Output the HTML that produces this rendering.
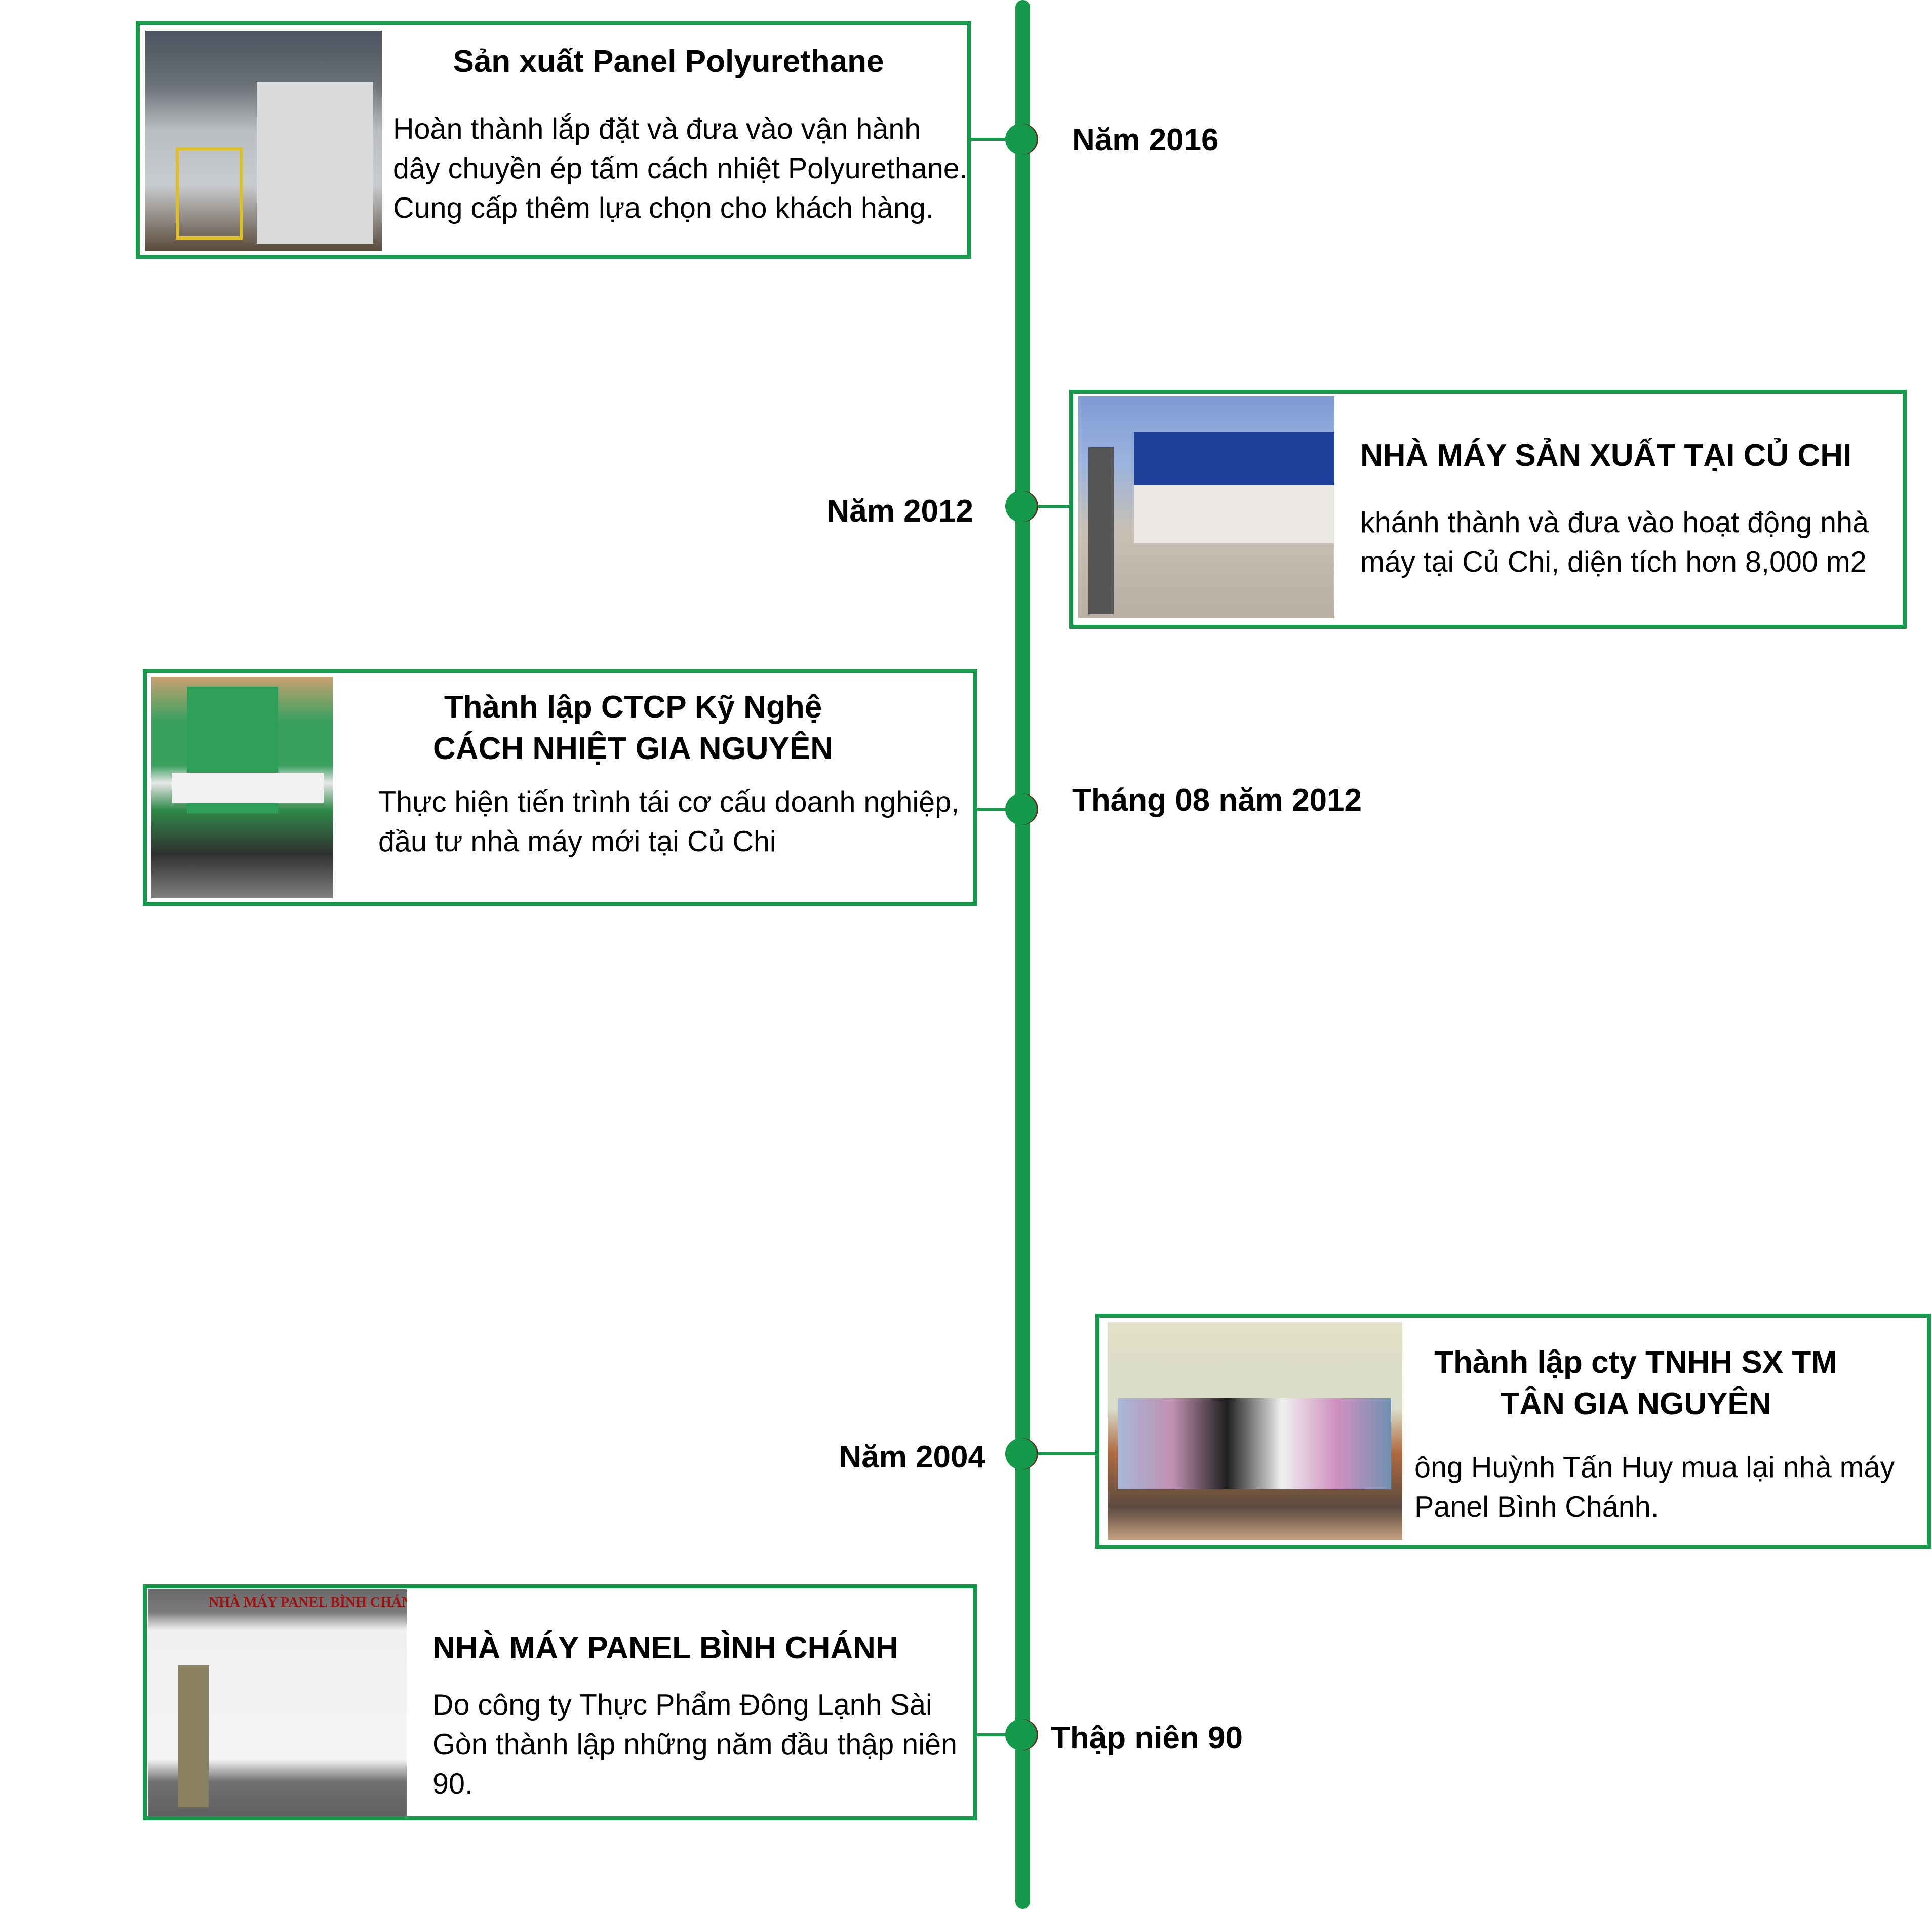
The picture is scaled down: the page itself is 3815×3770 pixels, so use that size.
<!DOCTYPE html>
<html><head><meta charset="utf-8">
<style>
html,body{margin:0;padding:0;background:#fff}
body{width:3815px;height:3770px;position:relative;overflow:hidden;font-family:"Liberation Sans",Arial,sans-serif;color:#000}
.a{position:absolute}
.box{position:absolute;border:8px solid #149a4a;box-sizing:border-box;background:#fff}
.line{position:absolute;background:#149a4a}
.dot{position:absolute;width:62px;height:62px;border-radius:50%;background:#149a4a;box-shadow:3px 0 0 #5a2a1a}
.lbl{position:absolute;font-weight:bold;font-size:62px;line-height:70px;white-space:nowrap}
.t{position:absolute;font-weight:bold;font-size:62px;line-height:82px;white-space:nowrap}
.b{position:absolute;font-size:57.5px;line-height:78px;white-space:nowrap}
.img{position:absolute;overflow:hidden}
</style></head><body>

<div class="line" style="left:2005px;top:0;width:29px;height:3770px;border-radius:15px"></div>

<!-- Box 1 -->
<div class="box" style="left:268px;top:41px;width:1650px;height:470px"></div>
<div class="img" style="left:287px;top:61px;width:467px;height:435px;background:linear-gradient(180deg,#4a5560 0%,#6c7278 25%,#b9bcc0 45%,#c9cccf 70%,#5a4a3a 100%)">
 <div class="a" style="left:220px;top:100px;width:230px;height:320px;background:#d8dadc"></div>
 <div class="a" style="left:60px;top:230px;width:120px;height:170px;border:6px solid #e0c020"></div>
</div>
<div class="t" style="left:880px;top:81px;width:880px;text-align:center">Sản xuất Panel Polyurethane</div>
<div class="b" style="left:776px;top:216px">Hoàn thành lắp đặt và đưa vào vận hành<br>dây chuyền ép tấm cách nhiệt Polyurethane.<br>Cung cấp thêm lựa chọn cho khách hàng.</div>
<div class="line" style="left:1918px;top:272px;width:100px;height:6px"></div>
<div class="dot" style="left:1985px;top:244px"></div>
<div class="lbl" style="left:2117px;top:242px">Năm 2016</div>

<!-- Box 2 -->
<div class="box" style="left:2111px;top:770px;width:1654px;height:472px"></div>
<div class="img" style="left:2129px;top:783px;width:506px;height:438px;background:linear-gradient(180deg,#7d9bd4 0%,#9bb3de 30%,#c8c0b4 60%,#b8aea2 100%)">
 <div class="a" style="left:110px;top:70px;width:396px;height:110px;background:#1e3f9a"></div>
 <div class="a" style="left:110px;top:175px;width:396px;height:115px;background:#ece9e4"></div>
 <div class="a" style="left:20px;top:100px;width:50px;height:330px;background:#555"></div>
</div>
<div class="t" style="left:2686px;top:859px">NHÀ MÁY SẢN XUẤT TẠI CỦ CHI</div>
<div class="b" style="left:2686px;top:993px">khánh thành và đưa vào hoạt động nhà<br>máy tại Củ Chi, diện tích hơn 8,000 m2</div>
<div class="line" style="left:2020px;top:997px;width:95px;height:6px"></div>
<div class="dot" style="left:1985px;top:969px"></div>
<div class="lbl" style="left:1622px;top:975px;width:300px;text-align:right">Năm 2012</div>

<!-- Box 3 -->
<div class="box" style="left:282px;top:1321px;width:1648px;height:468px"></div>
<div class="img" style="left:299px;top:1336px;width:358px;height:438px;background:linear-gradient(180deg,#c9a070 0%,#3aa060 20%,#3aa060 40%,#e8e8e8 48%,#2f8a4a 60%,#303030 80%,#808080 100%)">
 <div class="a" style="left:70px;top:20px;width:180px;height:250px;background:#2fa05a"></div>
 <div class="a" style="left:40px;top:190px;width:300px;height:60px;background:#f2f2f2"></div>
</div>
<div class="t" style="left:700px;top:1356px;width:1100px;text-align:center">Thành lập CTCP Kỹ Nghệ<br>CÁCH NHIỆT GIA NGUYÊN</div>
<div class="b" style="left:747px;top:1545px">Thực hiện tiến trình tái cơ cấu doanh nghiệp,<br>đầu tư nhà máy mới tại Củ Chi</div>
<div class="line" style="left:1930px;top:1595px;width:90px;height:6px"></div>
<div class="dot" style="left:1985px;top:1567px"></div>
<div class="lbl" style="left:2117px;top:1546px">Tháng 08 năm 2012</div>

<!-- Box 4 -->
<div class="box" style="left:2163px;top:2594px;width:1650px;height:465px"></div>
<div class="img" style="left:2187px;top:2611px;width:582px;height:430px;background:linear-gradient(180deg,#e2e0c8 0%,#d8dcc8 40%,#b06a40 60%,#5a4a40 85%,#c8a080 100%)">
 <div class="a" style="left:20px;top:150px;width:540px;height:180px;background:linear-gradient(90deg,#a8b8d8,#c090b0,#202020,#f0f0f0,#d090c0,#7090b0)"></div>
</div>
<div class="t" style="left:2800px;top:2650px;width:860px;text-align:center">Thành lập cty TNHH SX TM<br>TÂN GIA NGUYÊN</div>
<div class="b" style="left:2793px;top:2859px">ông Huỳnh Tấn Huy mua lại nhà máy<br>Panel Bình Chánh.</div>
<div class="line" style="left:2020px;top:2868px;width:145px;height:6px"></div>
<div class="dot" style="left:1985px;top:2840px"></div>
<div class="lbl" style="left:1646px;top:2843px;width:300px;text-align:right">Năm 2004</div>

<!-- Box 5 -->
<div class="box" style="left:282px;top:3129px;width:1648px;height:466px"></div>
<div class="img" style="left:292px;top:3139px;width:511px;height:447px;background:linear-gradient(180deg,#6a6a6a 0%,#7a7a7a 10%,#f0f0f0 18%,#f4f4f4 75%,#707070 85%,#606060 100%)">
 <div class="a" style="left:120px;top:10px;font-family:'Liberation Serif',serif;font-size:28px;color:#a01010;font-weight:bold;white-space:nowrap">NHÀ MÁY PANEL BÌNH CHÁNH</div>
 <div class="a" style="left:60px;top:150px;width:60px;height:280px;background:#8a8060"></div>
</div>
<div class="t" style="left:854px;top:3214px">NHÀ MÁY PANEL BÌNH CHÁNH</div>
<div class="b" style="left:854px;top:3328px">Do công ty Thực Phẩm Đông Lạnh Sài<br>Gòn thành lập những năm đầu thập niên<br>90.</div>
<div class="line" style="left:1930px;top:3423px;width:90px;height:6px"></div>
<div class="dot" style="left:1985px;top:3395px"></div>
<div class="lbl" style="left:2075px;top:3398px">Thập niên 90</div>

</body></html>
